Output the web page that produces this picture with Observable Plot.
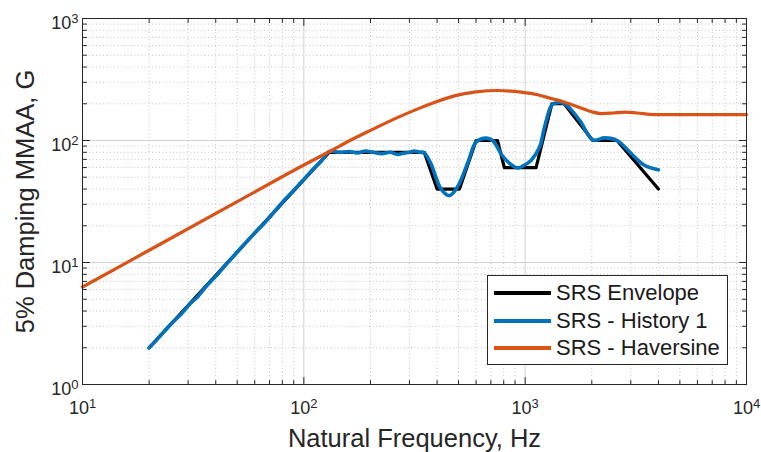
<!DOCTYPE html>
<html>
<head>
<meta charset="utf-8">
<script src="https://cdn.jsdelivr.net/npm/d3@7"></script>
<script src="https://cdn.jsdelivr.net/npm/@observablehq/plot@0.6"></script>
<style>
  html, body { margin: 0; padding: 0; background: #fff; }
  #wrap { position: relative; width: 761px; height: 452px; font-family: "Liberation Sans", Arial, Helvetica, sans-serif; }
  #legend { position: absolute; left: 487px; top: 275px; width: 239px; height: 88px; border: 1px solid #262626; background: #fff; box-sizing: content-box; }
  .row { position: absolute; left: 6px; height: 27px; display: flex; align-items: center; font-size: 22px; color: #1a1a1a; white-space: nowrap; }
  .sw { display: inline-block; width: 57px; height: 4px; margin-right: 5px; }
</style>
</head>
<body>
<div id="wrap"><div id="chart"></div><div id="legend"></div></div>
<script>
// ---- data ----
const seriesNames = ["SRS Envelope", "SRS - History 1", "SRS - Haversine"];
const seriesColors = ["#000000", "#0072BD", "#D95319"];

const envFreq = [20, 130, 350, 400, 505, 600, 750, 805, 1120, 1320, 1500, 2020, 2600, 4000];
const envG    = [2,  80,  80,  40,  40,  100, 100, 60,  60,   200,  200,  100,  100,  40];

const histFreq = [20, 22, 25, 28, 31, 33, 36, 40, 44, 48, 52, 57, 62, 66, 70, 76, 83, 90, 100, 110, 120, 130,
  145, 160, 175, 190, 205, 225, 245, 265, 285, 300, 315, 335, 350, 376, 395, 417, 454, 494, 551, 600, 667, 713,
  789, 850, 927, 980, 1065, 1161, 1222, 1313, 1360, 1507, 1763, 2024, 2287, 2600, 3126, 3470, 4000];
const histG = [2.0, 2.4, 3.1, 3.8, 4.7, 5.2, 6.3, 7.7, 9.4, 11.2, 13.2, 15.8, 18.6, 20.8, 23.5, 28, 33.5, 39, 48, 58, 68, 81,
  80, 81, 79, 82, 80, 78, 80, 77, 79, 80, 82, 80, 79, 64, 50, 40, 35.4, 41.5, 66, 97, 104.5, 100,
  75, 65, 59.5, 62, 69, 88, 128, 193, 202, 200, 146, 101, 105, 100, 73, 62.4, 57.5];

const havFreq = [10, 20, 50, 100, 132, 160, 200, 250, 300, 338, 400, 479, 600, 751, 959, 1140, 1300, 1507, 1800, 2000, 2207, 2500, 2813, 3200, 3846, 5000, 7000, 10000];
const havG    = [6.3, 12.6, 31.5, 63, 82, 99, 121, 147, 170, 186, 209, 232, 250, 257, 249, 237, 222, 206, 184, 172, 166, 168, 171, 168, 163, 163, 163, 163];

const xMajor = [10, 100, 1000, 10000];
const xMinor = [20, 30, 40, 50, 60, 70, 80, 90, 200, 300, 400, 500, 600, 700, 800, 900, 2000, 3000, 4000, 5000, 6000, 7000, 8000, 9000];
const yMajor = [1, 10, 100, 1000];
const yMinor = [2, 3, 4, 5, 6, 7, 8, 9, 20, 30, 40, 50, 60, 70, 80, 90, 200, 300, 400, 500, 600, 700, 800, 900];
const xTickExp = ["1", "2", "3", "4"];
const yTickExp = ["0", "1", "2", "3"];
const xLabel = "Natural Frequency, Hz";
const yLabel = "5% Damping MMAA, G";

// ---- build ----
const toRows = (fs, gs) => fs.map((f, i) => ({f, g: gs[i]}));
const env = toRows(envFreq, envG);
const hist = toRows(histFreq, histG);
const hav = toRows(havFreq, havG);

const tickShape = {draw(ctx, l) { ctx.moveTo(0, 0); ctx.lineTo(0, -l); }};
const tc = "#262626";
function tickMarks(values, axis, len) {
  const o = {length: len, anchor: "start", shape: tickShape, stroke: tc, strokeWidth: 1};
  if (axis === "x") return [
    Plot.vector(values, {x: d => d, frameAnchor: "bottom", rotate: 0, ...o}),
    Plot.vector(values, {x: d => d, frameAnchor: "top", rotate: 180, ...o})
  ];
  return [
    Plot.vector(values, {y: d => d, frameAnchor: "left", rotate: 90, ...o}),
    Plot.vector(values, {y: d => d, frameAnchor: "right", rotate: -90, ...o})
  ];
}

const svg = Plot.plot({
  width: 761,
  height: 452,
  marginLeft: 82,
  marginRight: 15,
  marginTop: 18,
  marginBottom: 68,
  style: {fontFamily: '"Liberation Sans", Arial, Helvetica, sans-serif', color: tc, background: "#fff", overflow: "visible"},
  x: {type: "log", domain: [10, 10000]},
  y: {type: "log", domain: [1, 1000]},
  marks: [
    Plot.gridX(xMinor, {stroke: "#b8b8b8", strokeOpacity: 1, strokeDasharray: "1,2.5", strokeWidth: 0.8}),
    Plot.gridY(yMinor, {stroke: "#b8b8b8", strokeOpacity: 1, strokeDasharray: "1,2.5", strokeWidth: 0.8}),
    Plot.gridX(xMajor, {stroke: "#d2d2d2", strokeOpacity: 1, strokeWidth: 1}),
    Plot.gridY(yMajor, {stroke: "#d2d2d2", strokeOpacity: 1, strokeWidth: 1}),
    Plot.line(env, {x: "f", y: "g", stroke: seriesColors[0], strokeWidth: 3.2}),
    Plot.line(hist, {x: "f", y: "g", stroke: seriesColors[1], strokeWidth: 3.6, curve: "catmull-rom"}),
    Plot.line(hav, {x: "f", y: "g", stroke: seriesColors[2], strokeWidth: 3.2, curve: "monotone-x"}),
    Plot.frame({stroke: tc, strokeWidth: 1}),
    ...tickMarks(xMinor, "x", 4),
    ...tickMarks(xMajor, "x", 7),
    ...tickMarks(yMinor, "y", 4),
    ...tickMarks(yMajor, "y", 7),
    Plot.axisX(xMajor, {tickSize: 0, tickPadding: 17, fontSize: 18, tickFormat: d => "10^" + xTickExp[xMajor.indexOf(d)], label: null}),
    Plot.axisY(yMajor, {tickSize: 0, tickPadding: 4, fontSize: 18, dy: 5, tickFormat: d => "10^" + yTickExp[yMajor.indexOf(d)], label: null}),
    Plot.text([xLabel], {frameAnchor: "bottom", dy: 54, text: d => d, fontSize: 25.5, lineAnchor: "middle", textAnchor: "middle", fill: tc}),
    Plot.text([yLabel], {frameAnchor: "left", dx: -57, rotate: -90, text: d => d, fontSize: 25.5, lineAnchor: "middle", textAnchor: "middle", fill: tc})
  ]
});

// superscript exponents in tick labels
d3.select(svg).selectAll('g[aria-label="x-axis tick label"] text, g[aria-label="y-axis tick label"] text').each(function() {
  const t = d3.select(this);
  const parts = t.text().split("^");
  if (parts.length !== 2) return;
  t.text(null);
  t.append("tspan").text(parts[0]);
  t.append("tspan").attr("dy", "-0.45em").attr("font-size", "13px").text(parts[1]);
});

document.getElementById("chart").appendChild(svg);

// legend
const legend = document.getElementById("legend");
const rowTops = [3, 31, 58];
seriesNames.forEach((name, i) => {
  const row = document.createElement("div");
  row.className = "row";
  row.style.top = rowTops[i] + "px";
  const sw = document.createElement("span");
  sw.className = "sw";
  sw.style.background = seriesColors[i];
  row.appendChild(sw);
  row.appendChild(document.createTextNode(name));
  legend.appendChild(row);
});
</script>
</body>
</html>
